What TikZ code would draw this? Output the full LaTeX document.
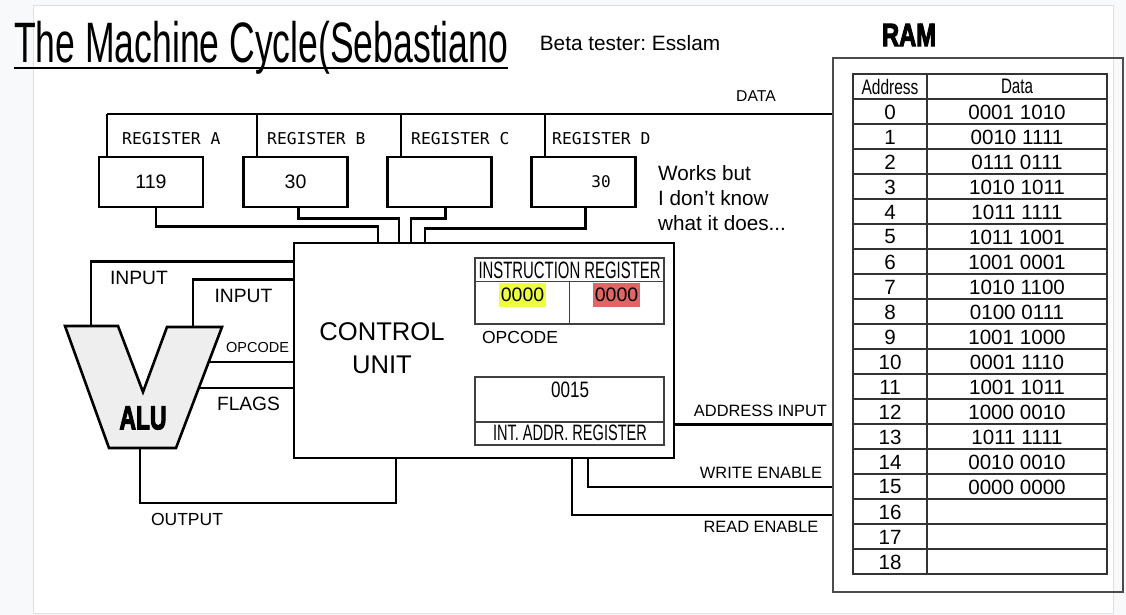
\documentclass[tikz,border=0pt]{standalone}
\usepackage{graphicx}
\usepackage{fontspec}
\setmainfont{Liberation Sans}
\newfontfamily\monofont{DejaVu Sans Mono}
\newfontfamily\heavyfont{Liberation Sans}[BoldFeatures={FakeBold=4}]
\usetikzlibrary{calc}
\frenchspacing

% squeeze text to a given width, keep its height (condensed look)
\newcommand\squeeze[2]{\resizebox{#1}{\height}{#2}}
\newcommand\fs[1]{\fontsize{#1}{#1}\selectfont}

\definecolor{pagegray}{HTML}{F8F9FA}
\definecolor{opyellow}{HTML}{EEFF41}
\definecolor{opred}{HTML}{E06666}
\definecolor{alugray}{HTML}{EEEEEE}

\begin{document}
\begin{tikzpicture}[
  x=1pt, y=-1pt,
  wire/.style={line width=2.6pt},
  regbox/.style={draw, line width=2.6pt, minimum width=104pt, minimum height=50pt, inner sep=0pt, font=\fs{19.5}},
  reglabel/.style={anchor=west, inner sep=0pt, font=\monofont\fs{16.3}},
  tag/.style={inner sep=0pt, font=\fs{16.4}},
  subbox/.style={draw=black!75, line width=1.5pt, minimum width=189pt, inner sep=0pt},
  hilite/.style={minimum width=47pt, minimum height=24pt, inner sep=0pt, font=\fs{19.5}},
  cell/.style={inner sep=0pt, font=\fs{20.6}},
  tabline/.style={draw=black!80, line width=1.6pt}
]
  \useasboundingbox (0,0) rectangle (1126,615);

  % page
  \fill[pagegray] (0,0) rectangle (1126,615);
  \filldraw[fill=white, draw=black!12, line width=1pt] (33,6) rectangle (1113,613);

  % header
  \node[anchor=base west, inner sep=0pt, font=\fs{57}] (title) at (14,63)
    {\squeeze{494pt}{The Machine Cycle(Sebastiano}};
  \draw[line width=2.6pt] ([yshift=-5pt]title.base west) -- ([yshift=-5pt]title.base east);
  \node[inner sep=0pt, font=\fs{20.8}] (beta) at (630,43) {Beta tester: Esslam};
  \node[inner sep=0pt, font=\heavyfont\bfseries\fs{32}] (ramlabel) at (909,35) {\squeeze{54pt}{RAM}};

  % RAM box and table
  \node[draw=black!70, line width=2pt, minimum width=290pt, minimum height=534pt] (ram) at (978,325) {};
  \draw[tabline] (853,74) rectangle (1107,574);
  \draw[tabline] (927,74) -- (927,574);
  \foreach \i in {0,...,18}
    \draw[tabline] (853,{99+25*\i}) -- (1107,{99+25*\i});
  \node[inner sep=0pt, font=\fs{21}] (hdraddr) at (890,86.5) {\squeeze{57pt}{Address}};
  \node[inner sep=0pt, font=\fs{21}] (hdrdata) at (1017,86.5) {\squeeze{32pt}{Data}};
  \foreach \a in {0,...,18}
    \node[cell] (addr\a) at (890,{112+25*\a}) {\a};
  \foreach \a/\d in {0/0001 1010, 1/0010 1111, 2/0111 0111, 3/1010 1011,
                     4/1011 1111, 5/1011 1001, 6/1001 0001, 7/1010 1100,
                     8/0100 0111, 9/1001 1000, 10/0001 1110, 11/1001 1011,
                     12/1000 0010, 13/1011 1111, 14/0010 0010, 15/0000 0000}
    \node[cell] (data\a) at (1017,{112+25*\a}) {\d};

  % registers
  \node[regbox] (regA) at (151,182) {119};
  \node[regbox] (regB) at (295.5,182) {30};
  \node[regbox] (regC) at (439.5,182) {};
  \node[regbox] (regD) at (583.5,182) {};
  \node[inner sep=0pt, font=\monofont\fs{16}] (valD) at (601,182) {30};
  \node[reglabel] (labA) at (122,139) {REGISTER A};
  \node[reglabel] (labB) at (267,139) {REGISTER B};
  \node[reglabel] (labC) at (411,139) {REGISTER C};
  \node[reglabel] (labD) at (552,139) {REGISTER D};
  \node[anchor=west, align=left, inner sep=0pt, font=\fontsize{20.7}{25}\selectfont] (note) at (658,198)
    {Works but\\I don’t know\\what it does...};

  % data bus
  \coordinate (busL) at (107,114);
  \draw[wire] (busL) -- (busL -| ram.west);
  \foreach \x in {107,257,401,545}
    \draw[wire] (\x,114) -- (\x,157);
  \node[inner sep=0pt, font=\fs{15.7}] (datatag) at (756,96) {DATA};

  % control unit
  \node[draw, line width=2.6pt, minimum width=380pt, minimum height=215pt] (cu) at (484,350.5) {};
  \node[align=center, inner sep=0pt, font=\fontsize{25.6}{33}\selectfont] (cutext) at (382,348.5) {CONTROL\\UNIT};

  \draw[wire] ([xshift=5pt]regA.south) -- ++(0,18) -| ([xshift=-106pt]cu.north);
  \draw[wire] ([xshift=3pt]regB.south) -- ++(0,10) -| ([xshift=-85pt]cu.north);
  \draw[wire] ([xshift=6pt]regC.south) -- ++(0,10) -| ([xshift=-73pt]cu.north);
  \draw[wire] ([xshift=2pt]regD.south) -- ++(0,20) -| ([xshift=-59pt]cu.north);

  % instruction register
  \node[subbox, minimum height=66pt] (ir) at (569.5,291) {};
  \draw[draw=black!75, line width=1.5pt] ([yshift=-24pt]ir.north west) -- ([yshift=-24pt]ir.north east);
  \draw[draw=black!75, line width=1.5pt] ([yshift=-24pt]ir.north) -- (ir.south);
  \node[inner sep=0pt, font=\fs{23.7}] (irhead) at (569.5,270) {\squeeze{182pt}{INSTRUCTION REGISTER}};
  \node[hilite, fill=opyellow] (opA) at (522.5,295) {0000};
  \node[hilite, fill=opred] (opB) at (616.5,295) {0000};
  \node[inner sep=0pt, font=\fs{17.5}] (optag) at (520,337) {OPCODE};

  % internal address register
  \node[subbox, minimum height=68pt] (iar) at (569.5,411) {};
  \draw[draw=black!75, line width=1.5pt] ([yshift=24pt]iar.south west) -- ([yshift=24pt]iar.south east);
  \node[inner sep=0pt, font=\fs{22.3}] (iarval) at (570,390) {\squeeze{38pt}{0015}};
  \node[inner sep=0pt, font=\fs{22.3}] (iarhead) at (570,433) {\squeeze{154pt}{INT. ADDR. REGISTER}};

  % ALU
  \filldraw[fill=alugray, line width=2.6pt, line join=miter]
    (65,326) -- (118,326) -- (143,392) -- (167,327) -- (222,327) -- (176,448) -- (109,448) -- cycle;
  \node[inner sep=0pt, font=\heavyfont\bfseries\fs{33}] (alutext) at (143,418) {\squeeze{47pt}{ALU}};
  \coordinate (aluInA) at (91,326);
  \coordinate (aluInB) at (193,327);
  \coordinate (aluOp) at (208.7,362);
  \coordinate (aluFl) at (198.8,388);
  \coordinate (aluOut) at (140,448);

  \draw[wire] (aluInA) |- ([yshift=-20pt]cu.north west);
  \draw[wire] (aluInB) |- ([yshift=-38pt]cu.north west);
  \draw[wire] (aluOp) -- (aluOp -| cu.west);
  \draw[wire] (aluFl) -- (aluFl -| cu.west);
  \draw[wire] (aluOut) -- ++(0,55) -| ([xshift=-88pt]cu.south);

  \node[inner sep=0pt, font=\fs{19.3}] (inA) at (139,278) {INPUT};
  \node[inner sep=0pt, font=\fs{19.3}] (inB) at (243.5,296) {INPUT};
  \node[inner sep=0pt, font=\fs{14.5}] (optagalu) at (257.5,348) {OPCODE};
  \node[inner sep=0pt, font=\fs{19.2}] (flags) at (248.5,404) {FLAGS};
  \node[inner sep=0pt, font=\fs{17.5}] (output) at (187,519) {OUTPUT};

  % control lines to RAM
  \coordinate (addrOut) at ([yshift=35pt]cu.south east);
  \draw[wire] (addrOut) -- (addrOut -| ram.west);
  \draw[wire] ([xshift=104pt]cu.south) |- ([yshift=106pt]ram.south west);
  \draw[wire] ([xshift=88pt]cu.south) |- ([yshift=78pt]ram.south west);
  \node[tag] (addrtag) at (760.5,411) {ADDRESS INPUT};
  \node[tag] (writetag) at (761,473) {WRITE ENABLE};
  \node[tag] (readtag) at (761,527) {READ ENABLE};
\end{tikzpicture}
\end{document}
